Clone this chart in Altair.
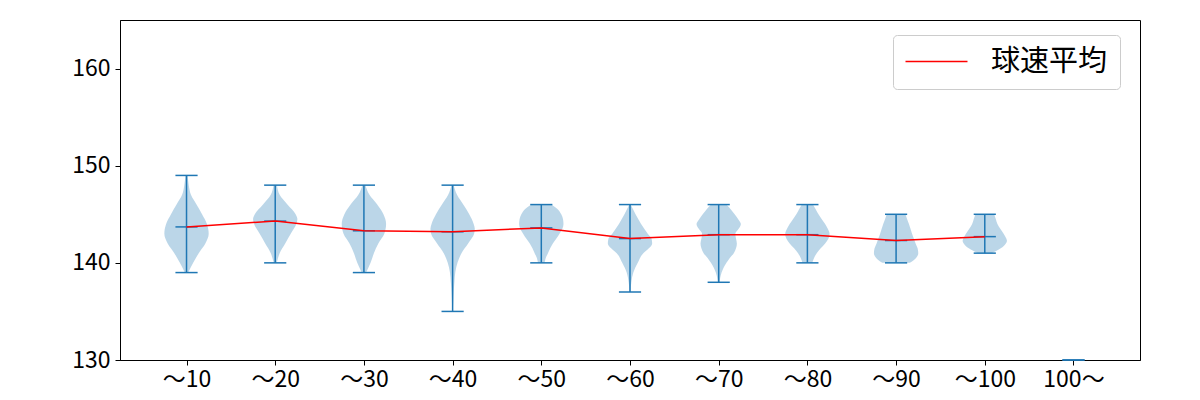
import json
import altair as alt
import pandas as pd

labels = ["～10", "～20", "～30", "～40", "～50", "～60", "～70", "～80", "～90", "～100", "100～"]
positions = [1, 2, 3, 4, 5, 6, 7, 8, 9, 10, 11]
means = [143.7, 144.3, 143.3, 143.2, 143.6, 142.5, 142.9, 142.9, 142.3, 142.7, None]
mins = [139, 140, 139, 135, 140, 137, 138, 140, 140, 141, 130]
maxs = [149, 148, 148, 148, 146, 146, 146, 146, 145, 145, 130]

# violin outlines: speeds and relative half-widths
v_speed = [
    [139, 140, 141, 142, 143, 144, 145, 146, 147, 148, 149],
    [140, 141, 142, 143, 144, 144.5, 145, 146, 147, 148],
    [139, 140, 141, 142, 143, 144, 145, 146, 147, 148],
    [135, 136, 137, 138, 139, 140, 141, 142, 143, 143.5, 144, 145, 146, 147, 148],
    [140, 140.5, 141, 141.5, 142, 142.5, 143, 143.5, 144, 144.5, 145, 145.5, 146],
    [137, 138, 139, 140, 141, 141.5, 142, 142.5, 143, 144, 145, 146],
    [138, 138.5, 139, 139.5, 140, 140.5, 141, 141.5, 142, 142.5, 143, 143.5, 144, 144.5, 145, 145.5, 146],
    [140, 140.5, 141, 141.5, 142, 142.5, 143, 143.5, 144, 144.5, 145, 145.5, 146],
    [140, 140.5, 141, 141.5, 142, 142.5, 143, 143.5, 144, 144.5, 145],
    [141, 141.5, 142, 142.25, 142.5, 143, 143.5, 144, 144.5, 145],
]
v_width = [
    [0.08, 0.3, 0.55, 0.85, 1.0, 0.92, 0.7, 0.45, 0.2, 0.1, 0.05],
    [0.07, 0.2, 0.45, 0.7, 0.95, 1.0, 0.92, 0.55, 0.2, 0.08],
    [0.1, 0.3, 0.45, 0.65, 0.92, 1.0, 0.88, 0.6, 0.25, 0.07],
    [0.01, 0.03, 0.05, 0.08, 0.12, 0.22, 0.4, 0.7, 0.97, 1.0, 0.95, 0.75, 0.48, 0.2, 0.05],
    [0.15, 0.2, 0.3, 0.4, 0.52, 0.68, 0.82, 0.95, 1.0, 0.98, 0.9, 0.75, 0.45],
    [0.02, 0.06, 0.15, 0.35, 0.6, 0.85, 1.0, 0.97, 0.8, 0.5, 0.25, 0.03],
    [0.04, 0.07, 0.13, 0.22, 0.35, 0.5, 0.68, 0.78, 0.82, 0.78, 0.75, 0.9, 1.0, 0.88, 0.72, 0.55, 0.35],
    [0.22, 0.3, 0.42, 0.6, 0.8, 0.95, 1.0, 0.92, 0.8, 0.65, 0.5, 0.38, 0.25],
    [0.62, 0.9, 1.0, 0.97, 0.88, 0.8, 0.72, 0.65, 0.58, 0.5, 0.42],
    [0.3, 0.72, 0.95, 1.0, 0.97, 0.85, 0.7, 0.57, 0.5, 0.42],
]
VIOLIN_HALF = 0.25  # matplotlib default width 0.5
CAP_HALF = 0.125

rows = []
for i, (sp, wd) in enumerate(zip(v_speed, v_width)):
    for s, w in zip(sp, wd):
        rows.append({"cat": labels[i], "speed": s,
                     "left": positions[i] - VIOLIN_HALF * w,
                     "right": positions[i] + VIOLIN_HALF * w})
violin_df = pd.DataFrame(rows).sort_values(["cat", "speed"]).reset_index(drop=True)

stats_df = pd.DataFrame({"cat": labels, "pos": positions, "mn": mins, "mx": maxs, "mean": means})
stats_df["cl"] = stats_df["pos"] - CAP_HALF
stats_df["cr"] = stats_df["pos"] + CAP_HALF
mean_df = stats_df.dropna(subset=["mean"]).assign(series="球速平均")

FONT = "Noto Sans CJK JP"
BLUE = "#1f77b4"

xscale = alt.Scale(domain=[0.25, 11.75], nice=False, zero=False)
yscale = alt.Scale(domain=[130, 165], nice=False, zero=False)

label_expr = json.dumps(labels, ensure_ascii=False) + "[round(datum.value) - 1]"
xaxis = alt.Axis(values=positions, labelExpr=label_expr, title=None, grid=False,
                 tickSize=5, labelPadding=3, labelFontSize=23, labelFont=FONT,
                 labelColor="black", domainColor="black", tickColor="black")
yaxis = alt.Axis(values=[130, 140, 150, 160], title=None, grid=False,
                 tickSize=5, labelPadding=5, labelFontSize=23, labelFont=FONT,
                 labelColor="black", domainColor="black", tickColor="black")

violin = alt.Chart(violin_df).mark_area(
    orient="horizontal", interpolate="monotone", color=BLUE, fillOpacity=0.3, opacity=1
).encode(
    y=alt.Y("speed:Q", scale=yscale, axis=yaxis),
    x=alt.X("left:Q", scale=xscale, axis=xaxis),
    x2=alt.X2("right:Q"),
    detail="cat:N",
)

base = alt.Chart(stats_df)

vline = base.mark_rule(color=BLUE, strokeWidth=1.5).encode(
    x=alt.X("pos:Q", scale=xscale, axis=xaxis),
    y=alt.Y("mn:Q", scale=yscale, axis=yaxis),
    y2="mx:Q",
)
cap_min = base.mark_rule(color=BLUE, strokeWidth=1.5).encode(
    x=alt.X("cl:Q", scale=xscale, axis=xaxis), x2="cr:Q",
    y=alt.Y("mn:Q", scale=yscale, axis=yaxis),
)
cap_max = base.mark_rule(color=BLUE, strokeWidth=1.5).encode(
    x=alt.X("cl:Q", scale=xscale, axis=xaxis), x2="cr:Q",
    y=alt.Y("mx:Q", scale=yscale, axis=yaxis),
)
cap_mean = alt.Chart(mean_df).mark_rule(color=BLUE, strokeWidth=1.5).encode(
    x=alt.X("cl:Q", scale=xscale, axis=xaxis), x2="cr:Q",
    y=alt.Y("mean:Q", scale=yscale, axis=yaxis),
)

mean_line = alt.Chart(mean_df).mark_line(strokeWidth=1.5).encode(
    x=alt.X("pos:Q", scale=xscale, axis=xaxis),
    y=alt.Y("mean:Q", scale=yscale, axis=yaxis),
    color=alt.Color(
        "series:N",
        scale=alt.Scale(domain=["球速平均"], range=["red"]),
        legend=alt.Legend(
            title=None, orient="none", legendX=773, legendY=15,
            symbolType="M-3,0H3", symbolSize=427, symbolStrokeWidth=1.5,
            symbolOffset=17,
            labelFont=FONT, labelFontSize=29, labelColor="black", labelOffset=40,
            padding=12, fillColor="white", strokeColor="#cccccc", cornerRadius=4,
        ),
    ),
)

chart = alt.layer(violin, vline, cap_min, cap_max, cap_mean, mean_line).properties(
    width=1020, height=340, autosize="none",
    padding={"left": 120, "top": 20, "right": 60, "bottom": 40},
    background="white",
).configure_view(stroke="black", strokeWidth=1)

chart.save("out.html", embed_options={"renderer": "svg", "actions": False})
